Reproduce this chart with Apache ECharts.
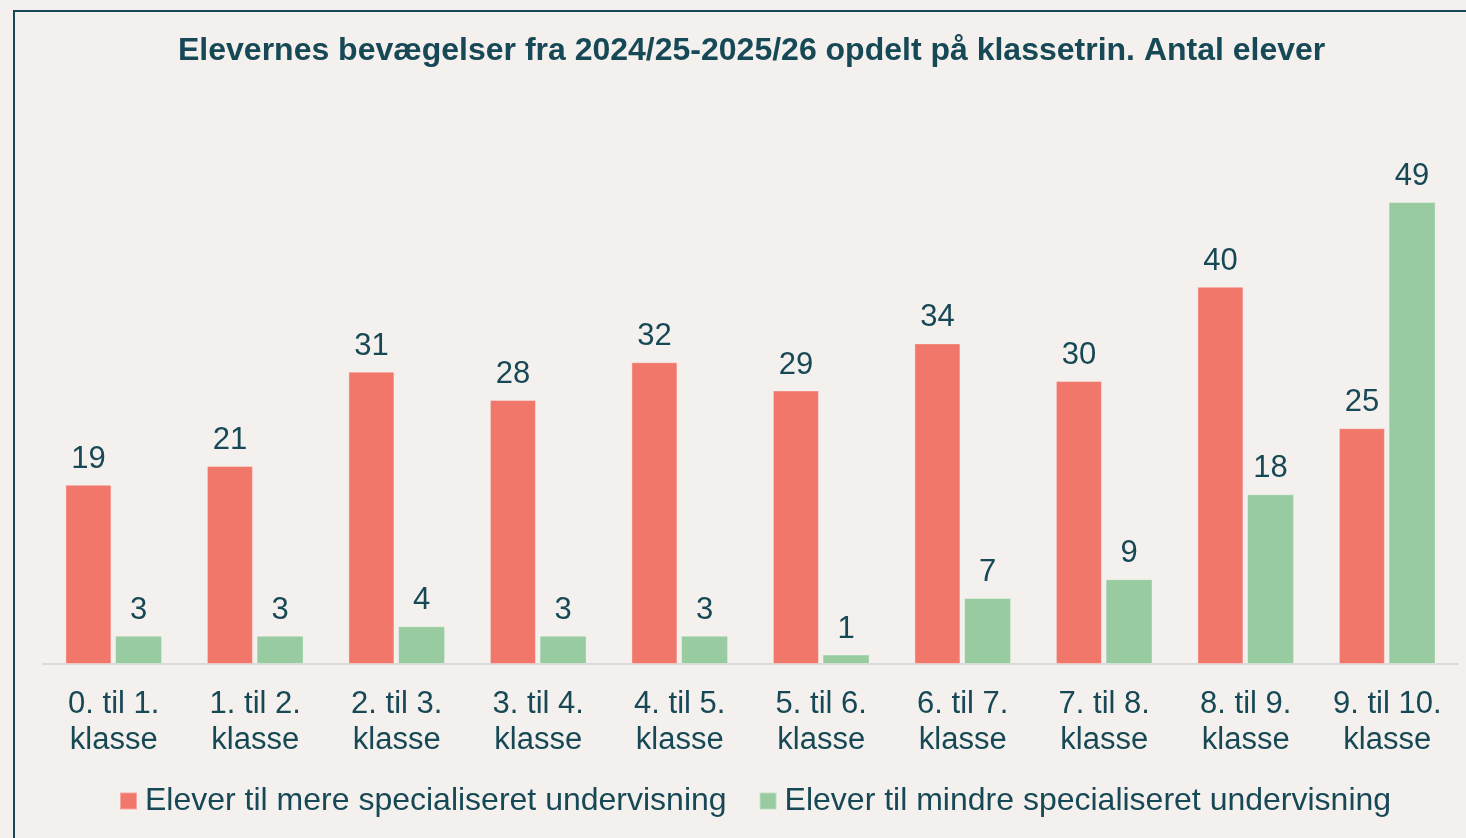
<!DOCTYPE html>
<html>
<head>
<meta charset="utf-8">
<script src="https://cdn.jsdelivr.net/npm/echarts@6/dist/echarts.min.js"></script>
<style>
  html, body { margin: 0; padding: 0; background: #f3f0ed; }
  #chart { width: 1466px; height: 838px; }
</style>
</head>
<body>
<div id="chart"></div>
<script>
// data
var categories = ['0. til 1.\nklasse', '1. til 2.\nklasse', '2. til 3.\nklasse', '3. til 4.\nklasse',
  '4. til 5.\nklasse', '5. til 6.\nklasse', '6. til 7.\nklasse', '7. til 8.\nklasse',
  '8. til 9.\nklasse', '9. til 10.\nklasse'];
var mereData = [19, 21, 31, 28, 32, 29, 34, 30, 40, 25];
var mindreData = [3, 3, 4, 3, 3, 1, 7, 9, 18, 49];
var seriesNames = ['Elever til mere specialiseret undervisning', 'Elever til mindre specialiseret undervisning'];

var textColor = '#174855';
var font = 'Liberation Sans, Arial, sans-serif';

var chart = echarts.init(document.getElementById('chart'));
chart.setOption({
  backgroundColor: '#f3f0ed',
  textStyle: { fontFamily: font, color: textColor },
  title: {
    text: 'Elevernes bevægelser fra 2024/25-2025/26 opdelt på klassetrin. Antal elever',
    left: 173,
    top: 30,
    textStyle: { fontFamily: font, fontSize: 32, fontWeight: 'bold', color: textColor }
  },
  graphic: [{
    type: 'rect',
    shape: { x: 14, y: 11, width: 1500, height: 900 },
    style: { fill: 'none', stroke: '#174855', lineWidth: 2 },
    silent: true
  }],
  legend: {
    data: seriesNames,
    left: 114,
    top: 780,
    itemWidth: 17,
    itemHeight: 17,
    itemGap: 32,
    icon: 'rect',
    textStyle: { fontFamily: font, fontSize: 32, color: textColor, padding: [0, 0, 0, 3] }
  },
  grid: {
    left: 43,
    right: 8,
    top: 192.5,
    bottom: 174,
    containLabel: false
  },
  xAxis: {
    type: 'category',
    data: categories,
    axisTick: { show: false },
    axisLine: { lineStyle: { color: '#d9d9d9', width: 2 } },
    axisLabel: {
      interval: 0,
      margin: 22,
      fontSize: 31,
      lineHeight: 36,
      color: textColor,
      fontFamily: font
    }
  },
  yAxis: {
    type: 'value',
    min: 0,
    max: 50,
    show: false,
    splitLine: { show: false }
  },
  series: [
    {
      name: seriesNames[0],
      type: 'bar',
      data: mereData,
      barWidth: 46,
      barGap: '8%',
      itemStyle: { color: '#f0776a', borderColor: 'rgba(255,255,255,0.35)', borderWidth: 1 },
      label: { show: true, position: 'top', distance: 10, fontSize: 31, color: textColor, fontFamily: font }
    },
    {
      name: seriesNames[1],
      type: 'bar',
      data: mindreData,
      barWidth: 47,
      itemStyle: { color: '#99cba0', borderColor: 'rgba(255,255,255,0.35)', borderWidth: 1 },
      label: { show: true, position: 'top', distance: 10, fontSize: 31, color: textColor, fontFamily: font }
    }
  ]
});
</script>
</body>
</html>
